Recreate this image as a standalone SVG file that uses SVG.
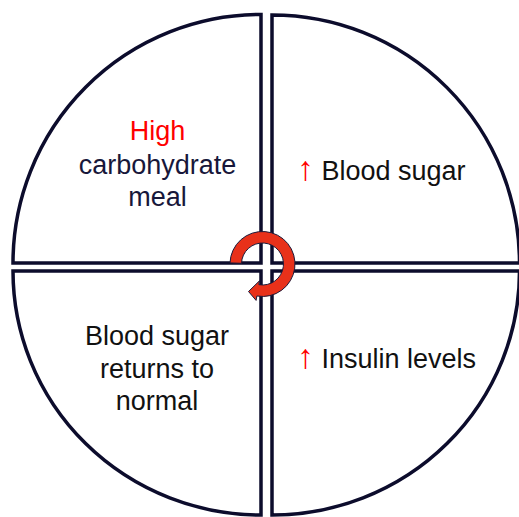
<svg xmlns="http://www.w3.org/2000/svg" width="519" height="517" viewBox="0 0 519 517">
  <style>
    .q { fill: #ffffff; stroke: #0c0c2c; stroke-width: 3.5; stroke-linejoin: miter; }
    .t { font-family: "Liberation Sans", Arial, sans-serif; font-size: 27px; text-anchor: middle; }
    .tl { font-family: "Liberation Sans", Arial, sans-serif; font-size: 27px; }
    .navy { fill: #17173a; }
    .blk { fill: #111111; }
    .red { fill: #ff0000; }
    .up { font-size: 34px; }
  </style>
  <rect width="519" height="517" fill="#ffffff"/>
  <g id="node-meal">
    <path class="q" d="M261,263 L261,14.5 A248,248.5 0 0 0 13,263 Z"/>
    <text class="t red" x="157.5" y="140">High</text>
    <text class="t navy" x="157.5" y="173.5">carbohydrate</text>
    <text class="t navy" x="157.5" y="205.5">meal</text>
  </g>
  <g id="node-blood-sugar">
    <path class="q" d="M272,263 L272,15 A247.5,248 0 0 1 519.5,263 Z"/>
    <text class="tl blk" x="297" y="179.5"><tspan class="red up">↑</tspan> Blood sugar</text>
  </g>
  <g id="node-insulin">
    <path class="q" d="M272,271 L272,515 A247.5,244 0 0 0 519.5,271 Z"/>
    <text class="tl blk" x="297" y="368"><tspan class="red up">↑</tspan> Insulin levels</text>
  </g>
  <g id="node-normal">
    <path class="q" d="M261,271 L13,271 A248,244 0 0 0 261,515 Z"/>
    <text class="t blk" x="157" y="345">Blood sugar</text>
    <text class="t blk" x="157" y="377.5">returns to</text>
    <text class="t blk" x="157" y="410">normal</text>
  </g>
  <g id="connectors">
    <path id="cycle-arrow" d="M230.0,262.9 A32.5,32.5 0 1 1 256.86,296.0 L256.08,300.4 L248.5,291.5 L259.55,280.74 L258.85,284.68 A21,21 0 1 0 241.5,263.3 Z" fill="#e8311a" stroke="#1a1a3a" stroke-width="1"/>
  </g>
</svg>
